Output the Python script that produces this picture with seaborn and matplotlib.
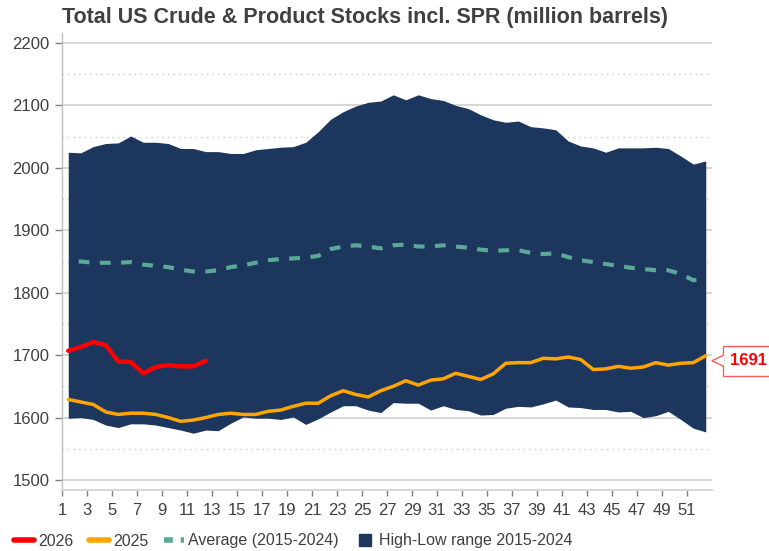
import matplotlib
matplotlib.use("Agg")
import matplotlib.pyplot as plt
import matplotlib.transforms as mtransforms
from matplotlib.patches import Polygon
from matplotlib.lines import Line2D
import pandas as pd
import seaborn as sns

WEEKS = list(range(1, 53))
HIGH = [2025, 2024, 2034, 2039, 2040, 2051, 2041, 2041, 2039, 2031,
        2031, 2026, 2026, 2023, 2023, 2029, 2031, 2033, 2034, 2041,
        2058, 2078, 2090, 2099, 2105, 2107, 2117, 2109, 2117, 2111,
        2108, 2100, 2095, 2085, 2077, 2073, 2075, 2066, 2064, 2061,
        2043, 2035, 2032, 2025, 2032, 2032, 2032, 2033, 2031, 2019,
        2006, 2011]
LOW = [1599, 1600, 1597, 1588, 1584, 1590, 1590, 1588, 1584, 1580,
       1575, 1580, 1579, 1591, 1601, 1599, 1599, 1597, 1601, 1589,
       1598, 1609, 1619, 1619, 1612, 1608, 1624, 1623, 1623, 1612,
       1619, 1613, 1611, 1604, 1605, 1615, 1618, 1617, 1622, 1628,
       1617, 1616, 1613, 1613, 1609, 1610, 1600, 1603, 1610, 1597,
       1583, 1577]
AVG = [1850, 1850, 1848, 1848, 1848, 1849, 1845, 1843, 1841, 1837,
       1834, 1834, 1836, 1841, 1844, 1848, 1852, 1854, 1855, 1856,
       1859, 1870, 1874, 1876, 1874, 1871, 1876, 1877, 1874, 1874,
       1876, 1874, 1872, 1869, 1867, 1868, 1868, 1864, 1862, 1863,
       1857, 1852, 1849, 1846, 1843, 1840, 1838, 1836, 1836, 1830,
       1820, 1822]
Y2025 = [1629, 1625, 1621, 1609, 1605, 1607, 1607, 1605, 1600, 1594,
         1596, 1600, 1605, 1607, 1605, 1605, 1610, 1612, 1618, 1623,
         1623, 1635, 1643, 1637, 1633, 1643, 1650, 1659, 1652, 1660,
         1662, 1671, 1666, 1661, 1670, 1687, 1688, 1688, 1695, 1694,
         1697, 1693, 1677, 1678, 1682, 1679, 1681, 1688, 1684, 1687,
         1688, 1699]
Y2026 = [1707, 1713, 1721, 1716, 1690, 1689, 1671, 1681, 1684, 1682,
         1682, 1691]

TITLE = "Total US Crude & Product Stocks incl. SPR (million barrels)"
NAVY = "#1c365e"
RED = "#ff0000"
ORANGE = "#ffa500"
TEAL = "#5aa896"
TEXT = "#404040"

sns.set_theme(style="white")
plt.rcParams["font.family"] = ["Liberation Sans", "DejaVu Sans"]

# weeks are drawn in the middle of their category slot
base = pd.DataFrame({"week": WEEKS, "high": HIGH, "low": LOW,
                     "avg": AVG, "y2025": Y2025})
base["x"] = base["week"] + 0.5
cur = pd.DataFrame({"week": WEEKS[:len(Y2026)], "y2026": Y2026})
cur["x"] = cur["week"] + 0.5

fig = plt.figure(figsize=(7.69, 5.51), dpi=100)
ax = fig.add_axes([62 / 769, 1 - 490 / 551, 650 / 769, 457 / 551])

ax.fill_between(base["x"], base["low"], base["high"], color=NAVY, lw=0, zorder=2)
sns.lineplot(data=base, x="x", y="avg", ax=ax, color=TEAL, lw=3.0,
             linestyle=(2.6, (2.6, 2.5)), zorder=3)
sns.lineplot(data=base, x="x", y="y2025", ax=ax, color=ORANGE, lw=2.5, zorder=4)
sns.lineplot(data=cur, x="x", y="y2026", ax=ax, color=RED, lw=3.2, zorder=5)

ax.set_xlim(1, 53)
ax.set_ylim(1484, 2216)
ax.set_xticks(list(range(1, 52, 2)))
ax.set_xticklabels([str(w) for w in range(1, 52, 2)], fontsize=12, color=TEXT)
ax.set_yticks(list(range(1500, 2201, 100)))
ax.set_yticklabels([str(v) for v in range(1500, 2201, 100)],
                   fontsize=12, color=TEXT)
ax.set_yticks(list(range(1550, 2200, 100)), minor=True)
ax.tick_params(axis="y", which="major", direction="out", length=5, width=1,
               color="#808080", pad=4, left=True)
ax.tick_params(axis="y", which="minor", length=0)
ax.tick_params(axis="x", direction="out", length=4.5, width=1,
               color="#808080", pad=5, bottom=True)
ax.grid(axis="y", which="major", color="#cfcfcf", lw=1.2, zorder=0)
ax.grid(axis="y", which="minor", color="#c8c8c8", lw=1.0, ls=(0, (1, 3)), zorder=0)
ax.grid(axis="x", visible=False)
ax.set_axisbelow(True)
ax.set_xlabel("")
ax.set_ylabel("")
for side in ("top", "right"):
    ax.spines[side].set_visible(False)
ax.spines["left"].set_color("#bfbfbf")
ax.spines["left"].set_linewidth(1)
ax.spines["bottom"].set_color("#d9d9d9")
ax.spines["bottom"].set_linewidth(1.5)

fig.text(62 / 769, 1 - 18 / 551, TITLE, fontsize=15.5, fontweight="bold",
         color=TEXT, ha="left", va="center")

# callout with the latest 2026 value
latest = Y2026[-1]
ax.annotate(f"{latest}", xy=(53, latest), xytext=(13, 0),
            textcoords="offset points", ha="left", va="center",
            fontsize=12, fontweight="bold", color=RED, annotation_clip=False,
            bbox=dict(boxstyle="square,pad=0.45", fc="white", ec="#ff5a5a", lw=1),
            zorder=10)
tip = fig.dpi_scale_trans + mtransforms.ScaledTranslation(53, latest, ax.transData)
ax.add_patch(Polygon([(0, 0), (0.125, 0.055), (0.125, -0.055)], closed=True,
                     fc="white", ec="none", transform=tip, clip_on=False, zorder=11))
ax.add_line(Line2D([0.108, 0, 0.108], [0.052, 0, -0.052], color="#ff5a5a", lw=1,
                   transform=tip, clip_on=False, zorder=12))

handles = [
    Line2D([], [], color=RED, lw=4),
    Line2D([], [], color=ORANGE, lw=4),
    Line2D([], [], color=TEAL, lw=4, ls=(0, (1.6, 1.4))),
    Line2D([], [], color=NAVY, marker="s", markersize=9, ls="none"),
]
labels = ["2026", "2025", "Average (2015-2024)", "High-Low range 2015-2024"]
fig.legend(handles, labels, loc="center left", bbox_to_anchor=(14 / 769, 1 - 541 / 551),
           ncol=4, frameon=False, handlelength=1.25, handletextpad=0.25,
           columnspacing=1.0, borderaxespad=0.0, borderpad=0.0,
           prop={"size": 11.5}, labelcolor=TEXT)

fig.savefig("out.png", dpi=100)
